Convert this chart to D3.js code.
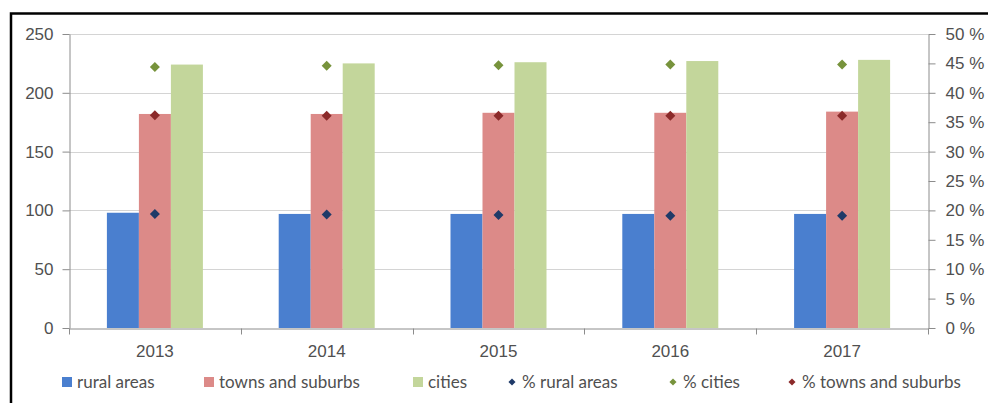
<!DOCTYPE html>
<html>
<head>
<meta charset="utf-8">
<script src="https://cdn.jsdelivr.net/npm/d3@7"></script>
<style>
  body { margin: 0; background: #fff; }
  svg { display: block; font-family: Lato, "Open Sans", sans-serif; }
</style>
</head>
<body>
<svg id="chart" width="988" height="403"></svg>
<script>
const years = ["2013", "2014", "2015", "2016", "2017"]
const rural = [98, 97, 97, 97, 97]
const towns = [182, 182, 183, 183, 184]
const cities = [224, 225, 226, 227, 228]
const pctRural = [19.4, 19.3, 19.2, 19.1, 19.1]
const pctCities = [44.4, 44.6, 44.7, 44.8, 44.8]
const pctTowns = [36.2, 36.1, 36.1, 36.1, 36.1]
const leftTicks = [0, 50, 100, 150, 200, 250]
const rightTicks = [0, 5, 10, 15, 20, 25, 30, 35, 40, 45, 50]

const barSeries = [
    {name: "rural areas", values: rural, fill: "#4a7fcf"},
    {name: "towns and suburbs", values: towns, fill: "#dc8a88"},
    {name: "cities", values: cities, fill: "#c3d69b"}
]
const pointSeries = [
    {name: "% rural areas", values: pctRural, fill: "#1f3a68"},
    {name: "% cities", values: pctCities, fill: "#77933c"},
    {name: "% towns and suburbs", values: pctTowns, fill: "#8b2a2a"}
]

const margin = ({top: 34, right: 60, bottom: 75, left: 69})
const width = 988, height = 403
const fontSize = 17
const svg = d3.select("#chart")

// frame (top and left edges only visible)
svg.append("path")
    .attr("d", `M11,${height} V13.5 H${width}`)
    .attr("fill", "none")
    .attr("stroke", "#000")
    .attr("stroke-width", 2.5)

const x = d3.scaleBand()
    .domain(years)
    .range([margin.left, width - margin.right])

const y = d3.scaleLinear()
    .domain([0, 250])
    .range([height - margin.bottom, margin.top])

const y2 = d3.scaleLinear()
    .domain([0, 50])
    .range([height - margin.bottom, margin.top])

const inner = d3.scaleBand()
    .domain(d3.range(barSeries.length))
    .range([0, 96])

// gridlines
svg.append("g")
    .selectAll("line")
    .data(leftTicks.slice(1))
    .join("line")
    .attr("x1", margin.left)
    .attr("x2", width - margin.right)
    .attr("y1", d => Math.round(y(d)) + 0.5)
    .attr("y2", d => Math.round(y(d)) + 0.5)
    .attr("stroke", "#d4d4d4")

// bars
barSeries.forEach((s, si) => {
    svg.append("g")
        .attr("fill", s.fill)
        .selectAll("rect")
        .data(s.values)
        .join("rect")
        .attr("x", (d, i) => x(years[i]) + x.bandwidth() / 2 - 48 + inner(si))
        .attr("y", d => y(d))
        .attr("width", inner.bandwidth())
        .attr("height", d => y(0) - y(d))
})

// diamonds
const diamond = d3.symbol().type(d3.symbolDiamond2).size(64)
pointSeries.forEach(s => {
    svg.append("g")
        .attr("fill", s.fill)
        .selectAll("path")
        .data(s.values)
        .join("path")
        .attr("d", diamond)
        .attr("transform", (d, i) => `translate(${x(years[i]) + x.bandwidth() / 2},${y2(d)})`)
})

const axisColor = "#8c8c8c"
const textColor = "#505050"

const xAxis = g => g
    .attr("transform", `translate(0,${y(0) + 0.5})`)
    .call(d3.axisBottom(x).tickSize(0).tickPadding(16))
    .call(g => g.select(".domain").attr("stroke", axisColor))
    .call(g => g.selectAll(".tick text").attr("fill", textColor).attr("font-size", fontSize))
    .call(g => g.selectAll(".sep")
        .data(d3.range(years.length + 1))
        .join("line")
        .attr("class", "sep")
        .attr("x1", i => Math.round(margin.left + i * x.step()) + 0.5)
        .attr("x2", i => Math.round(margin.left + i * x.step()) + 0.5)
        .attr("y1", 0)
        .attr("y2", 6)
        .attr("stroke", axisColor))

const yAxis = g => g
    .attr("transform", `translate(${margin.left + 0.5},0)`)
    .call(d3.axisLeft(y).tickValues(leftTicks).tickSize(7).tickPadding(9).tickSizeOuter(0))
    .call(g => g.selectAll(".domain, .tick line").attr("stroke", axisColor))
    .call(g => g.selectAll(".tick text").attr("fill", textColor).attr("font-size", fontSize))

const y2Axis = g => g
    .attr("transform", `translate(${width - margin.right + 0.5},0)`)
    .call(d3.axisRight(y2).tickValues(rightTicks).tickFormat(d => `${d} %`).tickSize(7).tickPadding(10).tickSizeOuter(0))
    .call(g => g.selectAll(".domain, .tick line").attr("stroke", axisColor))
    .call(g => g.selectAll(".tick text").attr("fill", textColor).attr("font-size", fontSize))

svg.append("g").call(xAxis)
svg.append("g").call(yAxis)
svg.append("g").call(y2Axis)

// legend
const legendX = [62, 204, 413, 512, 673, 792]
const legendY = 382
const legend = svg.append("g")
    .attr("font-size", fontSize)
    .attr("fill", textColor)
    .selectAll("g")
    .data([...barSeries.map(d => ({...d, kind: "bar"})), ...pointSeries.map(d => ({...d, kind: "pt"}))])
    .join("g")
    .attr("transform", (d, i) => `translate(${legendX[i]},${legendY})`)

legend.filter(d => d.kind === "bar").append("rect")
    .attr("x", 0).attr("y", -5).attr("width", 10).attr("height", 10)
    .attr("fill", d => d.fill)

legend.filter(d => d.kind === "pt").append("path")
    .attr("d", d3.symbol().type(d3.symbolDiamond2).size(32))
    .attr("fill", d => d.fill)

legend.append("text")
    .attr("x", d => d.kind === "bar" ? 15 : 10)
    .attr("dy", "0.35em")
    .text(d => d.name)
</script>
</body>
</html>
